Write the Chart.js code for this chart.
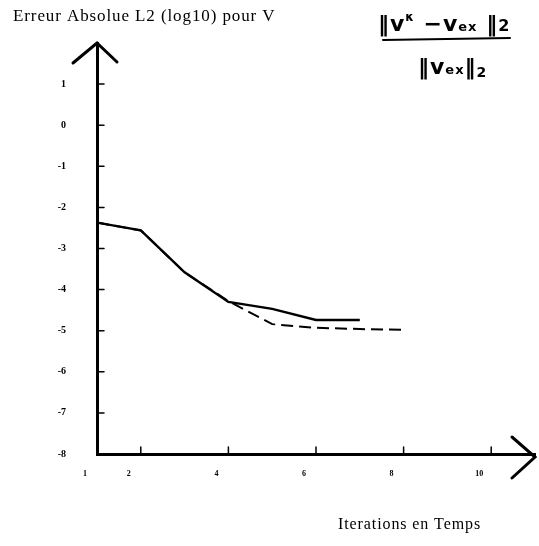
<!DOCTYPE html>
<html>
<head>
<meta charset="utf-8">
<script src="https://cdn.jsdelivr.net/npm/chart.js@4"></script>
<style>
html, body { margin: 0; background: #fff; }
#wrap { width: 539px; height: 546px; }
</style>
</head>
<body>
<div id="wrap"><canvas id="canvas"></canvas></div>
<script>
// valeurs
const iterPleine = [1, 2, 3, 4, 5, 6, 7];
const erreurPleine = [-2.37, -2.56, -3.58, -4.30, -4.47, -4.74, -4.74];
const iterTirets = [1, 2, 3, 4, 5, 6, 7, 8];
const erreurTirets = [-2.37, -2.56, -3.58, -4.28, -4.84, -4.93, -4.96, -4.98];
const xTicks = [1, 2, 4, 6, 8, 10];
const yTicks = [1, 0, -1, -2, -3, -4, -5, -6, -7, -8];

const titre = 'Erreur Absolue L2 (log10) pour V';
const titreX = 'Iterations en Temps';

function pts(xs, ys) {
    return ys.map((y, i) => ({x: xs[i], y: y}));
}

// morceaux de la formule manuscrite: [texte, taille, decalage vertical]
function drawPieces(ctx, x, y, pieces) {
    pieces.forEach(p => {
        ctx.font = 'bold ' + p[1] + 'px "DejaVu Sans"';
        ctx.fillText(p[0], x, y + p[2]);
        x += ctx.measureText(p[0]).width;
    });
    return x;
}

const decor = {
    id: 'decor',
    afterDraw(chart) {
        const ctx = chart.ctx;
        const a = chart.chartArea;
        const xs = chart.scales.x, ys = chart.scales.y;
        ctx.save();
        ctx.strokeStyle = '#000';
        ctx.fillStyle = '#000';
        ctx.lineCap = 'round';

        // fleches
        ctx.lineWidth = 3;
        ctx.beginPath();
        ctx.moveTo(a.left - 24, a.top + 20);
        ctx.lineTo(a.left, a.top);
        ctx.lineTo(a.left + 20, a.top + 19);
        ctx.moveTo(a.right - 23, a.bottom - 17);
        ctx.lineTo(a.right, a.bottom + 3);
        ctx.lineTo(a.right - 23, a.bottom + 24);
        ctx.stroke();

        // petites graduations vers l'interieur
        ctx.lineWidth = 1.5;
        ctx.beginPath();
        yTicks.forEach(v => {
            if (v === -8) return;
            const py = ys.getPixelForValue(v);
            ctx.moveTo(a.left, py);
            ctx.lineTo(a.left + 7, py);
        });
        xTicks.forEach(v => {
            if (v === 1) return;
            const px = xs.getPixelForValue(v);
            ctx.moveTo(px, a.bottom);
            ctx.lineTo(px, a.bottom - 7);
        });
        ctx.stroke();

        // textes
        ctx.textBaseline = 'alphabetic';
        ctx.letterSpacing = '0.9px';
        ctx.font = '17px "Liberation Serif"';
        ctx.fillText(titre, 13, 21);
        ctx.font = '16px "Liberation Serif"';
        ctx.fillText(titreX, 338, 529);

        // formule
        ctx.letterSpacing = '1px';
        drawPieces(ctx, 378, 31, [['\u2016v', 22, 0], ['\u03BA', 12, -10], [' \u2212v', 22, 0], ['ex', 13, 0], [' \u2016', 22, 0], ['2', 16, 0]]);
        ctx.lineWidth = 2;
        ctx.beginPath();
        ctx.moveTo(383, 40);
        ctx.lineTo(510, 38);
        ctx.stroke();
        drawPieces(ctx, 418, 74, [['\u2016v', 22, 0], ['ex', 13, 0], ['\u2016', 22, 0], ['2', 14, 3]]);
        ctx.restore();
    }
};

const ctx = document.getElementById('canvas').getContext('2d');

const myChart = new Chart(ctx, {
    type: 'line',
    data: {
        datasets: [{
            label: 'pleine',
            data: pts(iterPleine, erreurPleine),
            borderColor: '#000',
            borderWidth: 2.4,
            pointRadius: 0,
            tension: 0,
            fill: false
        },
        {
            label: 'tirets',
            data: pts(iterTirets, erreurTirets),
            borderColor: '#000',
            borderWidth: 2,
            borderDash: [12, 6],
            pointRadius: 0,
            tension: 0,
            fill: false
        }]
    },
    options: {
        responsive: true,
        maintainAspectRatio: false,
        animation: false,
        layout: { padding: { left: 0, top: 43, right: 4, bottom: 0 } },
        plugins: {
            legend: { display: false },
            tooltip: { enabled: false }
        },
        scales: {
            x: {
                type: 'linear',
                min: 1,
                max: 11,
                afterFit(s) { s.height = 92; },
                afterBuildTicks(s) { s.ticks = xTicks.map(v => ({value: v})); },
                grid: { display: false, drawTicks: false },
                border: { display: true, color: '#000', width: 3 },
                ticks: {
                    color: '#000',
                    padding: 15,
                    labelOffset: -12,
                    maxRotation: 0,
                    font: { family: 'Liberation Serif', size: 8, weight: 'bold' },
                    callback: v => String(v)
                }
            },
            y: {
                min: -8,
                max: 2,
                afterFit(s) { s.width = 97; },
                afterBuildTicks(s) { s.ticks = yTicks.map(v => ({value: v})); },
                grid: { display: false, drawTicks: false },
                border: { display: true, color: '#000', width: 3 },
                ticks: {
                    color: '#000',
                    padding: 31,
                    font: { family: 'Liberation Serif', size: 10, weight: 'bold' },
                    callback: v => String(v)
                }
            }
        }
    },
    plugins: [decor]
});
</script>
</body>
</html>
